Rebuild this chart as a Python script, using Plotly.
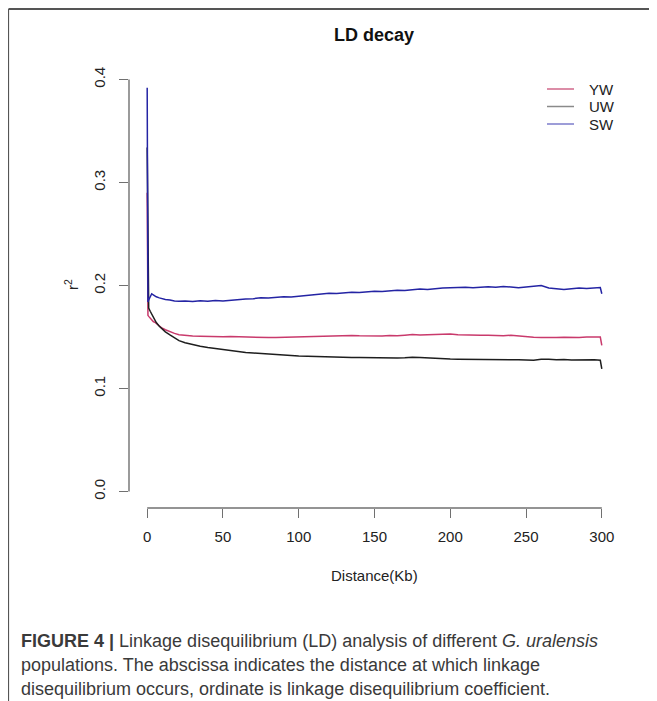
import plotly.graph_objects as go

# ---------------- data ----------------
distance_kb = [0, 0.5, 1, 2, 3, 4, 5, 6, 8, 10, 12, 15, 18, 21,
               25, 30, 35, 40, 45, 50, 55, 60, 65, 70, 75, 80, 85, 90, 95, 100,
               105, 110, 115, 120, 125, 130, 135, 140, 145, 150, 155, 160, 165, 170,
               175, 180, 185, 190, 195, 200, 205, 210, 215, 220, 225, 230, 235, 240,
               245, 250, 255, 260, 265, 270, 275, 280, 285, 290, 295, 299, 300]

r2_YW = [0.290, 0.171, 0.170, 0.168, 0.1665, 0.165, 0.1643, 0.163, 0.1605, 0.1585, 0.157, 0.155, 0.1535, 0.1522,
         0.1515, 0.151, 0.1508, 0.1505, 0.1507, 0.1503, 0.1505, 0.1502, 0.1498, 0.150, 0.1497, 0.1495, 0.1496, 0.1498, 0.1502, 0.1505,
         0.1503, 0.1508, 0.151, 0.1512, 0.1508, 0.151, 0.1515, 0.1512, 0.1509, 0.1513, 0.151, 0.1515, 0.1512, 0.1518,
         0.1525, 0.152, 0.1522, 0.1528, 0.1525, 0.153, 0.1522, 0.1518, 0.152, 0.1516, 0.1518, 0.1515, 0.1512, 0.1518,
         0.151, 0.1505, 0.1498, 0.1494, 0.1492, 0.1495, 0.1497, 0.1493, 0.1496, 0.1499, 0.1497, 0.150, 0.1418]

r2_UW = [0.334, 0.182, 0.178, 0.175, 0.172, 0.169, 0.1665, 0.164, 0.1605, 0.1575, 0.155, 0.152, 0.149, 0.1465,
         0.1445, 0.1425, 0.141, 0.1398, 0.1387, 0.1376, 0.1366, 0.1358, 0.135, 0.1344, 0.1338, 0.1333, 0.1328, 0.1324, 0.132, 0.1316,
         0.1313, 0.1309, 0.1306, 0.1304, 0.1302, 0.1303, 0.1301, 0.130, 0.1298, 0.130, 0.1297, 0.1298, 0.1295, 0.1298,
         0.1303, 0.130, 0.1295, 0.1292, 0.129, 0.1286, 0.1285, 0.1283, 0.1284, 0.1281, 0.128, 0.1282, 0.1279, 0.1278,
         0.128, 0.1277, 0.1275, 0.1283, 0.1285, 0.1278, 0.1281, 0.1276, 0.1279, 0.1275, 0.1278, 0.1274, 0.1191]

r2_SW = [0.392, 0.184, 0.186, 0.190, 0.192, 0.191, 0.190, 0.189, 0.188, 0.187, 0.1865, 0.186, 0.185, 0.1848,
         0.185, 0.1845, 0.1852, 0.1848, 0.1855, 0.185, 0.1858, 0.1862, 0.1868, 0.1872, 0.188, 0.1878, 0.1885, 0.189, 0.1888, 0.1896,
         0.1902, 0.1908, 0.1915, 0.1925, 0.1922, 0.193, 0.1935, 0.1932, 0.194, 0.1945, 0.1942, 0.195, 0.1955, 0.1952,
         0.196, 0.1965, 0.1962, 0.197, 0.1975, 0.1978, 0.198, 0.1984, 0.1978, 0.1985, 0.1988, 0.1984, 0.199, 0.1985,
         0.1978, 0.1985, 0.1992, 0.200, 0.1975, 0.1965, 0.196, 0.1968, 0.1975, 0.197, 0.1978, 0.198, 0.192]

series_names = ["YW", "UW", "SW"]
x_ticks = [0, 50, 100, 150, 200, 250, 300]
y_ticks = [0.0, 0.1, 0.2, 0.3, 0.4]
y_tick_labels = ["0.0", "0.1", "0.2", "0.3", "0.4"]

# ---------------- styling ----------------
FONT = "Liberation Sans, Arial, sans-serif"
line_colors = {"YW": "#C93A6C", "UW": "#1E1E1E", "SW": "#2424A4"}
legend_colors = {"YW": "#D0678A", "UW": "#8A8A8A", "SW": "#7C7CCB"}
AXIS_COLOR = "#707070"

# the page body adds an 8px offset; work in page pixel coordinates
OFF = 8
W, H = 657 - OFF, 701 - OFF
PLOT_L, PLOT_T = 129, 63          # plot area, page coords
PW, PH = 491, 445
L, T = PLOT_L - OFF, PLOT_T - OFF
R, B = W - L - PW, H - T - PH


def px_x(p):
    return (p - PLOT_L) / PW


def px_y(p):
    return (PLOT_T + PH - p) / PH


fig = go.Figure()
for name, vals in zip(series_names, [r2_YW, r2_UW, r2_SW]):
    fig.add_trace(go.Scatter(x=distance_kb, y=vals, mode="lines", name=name,
                             line=dict(color=line_colors[name], width=1.5),
                             showlegend=False))

shapes = [
    # R-style detached axes
    dict(type="line", xref="x", yref="paper", x0=x_ticks[0], x1=x_ticks[-1], y0=0, y1=0,
         line=dict(color=AXIS_COLOR, width=1.4)),
    dict(type="line", xref="paper", yref="y", x0=0, x1=0, y0=y_ticks[0], y1=y_ticks[-1],
         line=dict(color=AXIS_COLOR, width=1.4)),
    # page frame lines
    dict(type="line", xref="paper", yref="paper", x0=px_x(8.5), x1=px_x(660), y0=px_y(9), y1=px_y(9),
         line=dict(color="#555555", width=2)),
    dict(type="line", xref="paper", yref="paper", x0=px_x(8.5), x1=px_x(8.5), y0=px_y(9), y1=px_y(705),
         line=dict(color="#555555", width=1.2)),
]

annotations = [
    dict(text="<b>LD decay</b>", xref="paper", yref="paper", x=px_x(374), y=px_y(35),
         showarrow=False, font=dict(family=FONT, size=18, color="#111111"),
         xanchor="center", yanchor="middle"),
    dict(text="Distance(Kb)", xref="x", yref="paper", x=150, y=px_y(575),
         showarrow=False, font=dict(family=FONT, size=15, color="#222222"),
         xanchor="center", yanchor="middle"),
    dict(text="r<sup>2</sup>", xref="paper", yref="paper", x=px_x(71), y=px_y(285),
         showarrow=False, textangle=-90, font=dict(family=FONT, size=15, color="#222222"),
         xanchor="center", yanchor="middle"),
]

# manual legend (no box), as in base R
legend_rows = [89, 106.5, 124]
for name, ry in zip(series_names, legend_rows):
    shapes.append(dict(type="line", xref="paper", yref="paper", x0=px_x(547), x1=px_x(574),
                       y0=px_y(ry), y1=px_y(ry), line=dict(color=legend_colors[name], width=1.5)))
    annotations.append(dict(text=name, xref="paper", yref="paper", x=px_x(587), y=px_y(ry),
                            showarrow=False, xanchor="left", yanchor="middle",
                            font=dict(family=FONT, size=15, color="#222222")))

caption_lines = [
    "<b>FIGURE 4 |</b> Linkage disequilibrium (LD) analysis of different <i>G. uralensis</i>",
    "populations. The abscissa indicates the distance at which linkage",
    "disequilibrium occurs, ordinate is linkage disequilibrium coefficient.",
]
for line, cy in zip(caption_lines, [641, 665, 689]):
    annotations.append(dict(text=line, xref="paper", yref="paper", x=px_x(19), y=px_y(cy),
                            showarrow=False, xanchor="left", yanchor="middle", align="left",
                            font=dict(family=FONT, size=18, color="#3A3A3A")))

fig.update_layout(
    width=W, height=H,
    margin=dict(l=L, r=R, t=T, b=B, pad=0),
    paper_bgcolor="white", plot_bgcolor="white",
    font=dict(family=FONT, color="#222222"),
    shapes=shapes, annotations=annotations,
    xaxis=dict(range=[-12, 312], tickmode="array", tickvals=x_ticks,
               ticktext=[str(v) for v in x_ticks],
               showgrid=False, zeroline=False, showline=False,
               ticks="outside", ticklen=9, tickwidth=1.3, tickcolor=AXIS_COLOR,
               tickfont=dict(family=FONT, size=15, color="#222222"),
               ticklabelstandoff=6),
    yaxis=dict(range=[-0.016, 0.416], tickmode="array", tickvals=y_ticks,
               ticktext=y_tick_labels, tickangle=-90,
               showgrid=False, zeroline=False, showline=False,
               ticks="outside", ticklen=9, tickwidth=1.3, tickcolor=AXIS_COLOR,
               tickfont=dict(family=FONT, size=15, color="#222222"),
               ticklabelstandoff=8),
)

fig.write_html("out.html")
